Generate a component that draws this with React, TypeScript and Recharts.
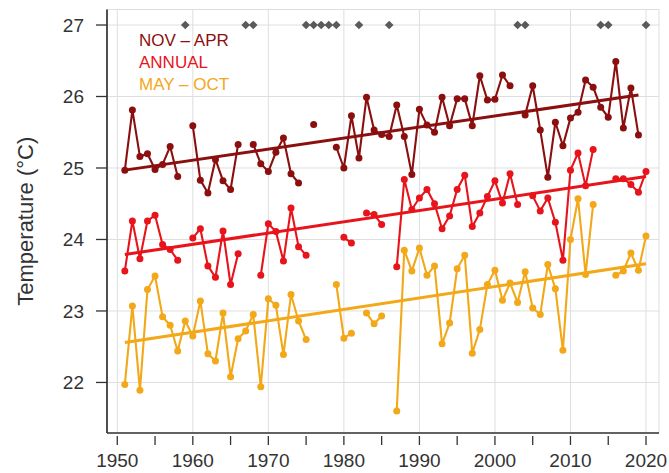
import React from 'react';
import {
  ComposedChart, Line, Scatter, XAxis, YAxis, CartesianGrid,
} from 'recharts';

const years = [
  1951, 1952, 1953, 1954, 1955, 1956, 1957, 1958, 1959, 1960,
  1961, 1962, 1963, 1964, 1965, 1966, 1967, 1968, 1969, 1970,
  1971, 1972, 1973, 1974, 1975, 1976, 1977, 1978, 1979, 1980,
  1981, 1982, 1983, 1984, 1985, 1986, 1987, 1988, 1989, 1990,
  1991, 1992, 1993, 1994, 1995, 1996, 1997, 1998, 1999, 2000,
  2001, 2002, 2003, 2004, 2005, 2006, 2007, 2008, 2009, 2010,
  2011, 2012, 2013, 2014, 2015, 2016, 2017, 2018, 2019, 2020,
];

// NOV - APR
const novApr = [
  24.97, 25.81, 25.16, 25.2, 24.98, 25.05, 25.3, 24.88, null, 25.59,
  24.83, 24.65, 25.12, 24.82, 24.7, 25.33, null, 25.33, 25.06, 24.95,
  25.22, 25.42, 24.92, 24.79, null, 25.61, null, null, 25.29, 25.0,
  25.73, 25.14, 25.99, 25.53, 25.47, 25.44, 25.88, 25.44, 24.91, 25.82,
  25.6, 25.5, 25.99, 25.59, 25.97, 25.97, 25.59, 26.29, 25.95, 25.96,
  26.3, 26.15, null, 25.74, 26.15, 25.53, 24.87, 25.64, 25.31, 25.7,
  25.78, 26.23, 26.13, 25.85, 25.71, 26.49, 25.56, 26.12, 25.46, null,
];

// ANNUAL
const annual = [
  23.56, 24.26, 23.73, 24.26, 24.34, 23.93, 23.86, 23.71, null, 24.02,
  24.15, 23.63, 23.47, 24.12, 23.37, 23.8, null, null, 23.5, 24.22,
  24.11, 23.7, 24.44, 23.9, 23.78, null, null, null, null, 24.03,
  23.95, null, 24.37, 24.35, 24.21, null, 23.62, 24.84, 24.42, 24.58,
  24.7, 24.5, 24.15, 24.33, 24.7, 24.9, 24.18, 24.37, 24.6, 24.82,
  24.51, 24.92, 24.49, null, 24.61, 24.4, 24.58, 24.24, 23.71, 24.97,
  25.21, 24.75, 25.26, null, null, 24.85, 24.85, 24.77, 24.66, 24.95,
];

// MAY - OCT
const mayOct = [
  21.97, 23.07, 21.89, 23.3, 23.49, 22.92, 22.8, 22.44, 22.86, 22.65,
  23.14, 22.4, 22.3, 22.97, 22.08, 22.61, 22.72, 22.95, 21.94, 23.17,
  23.08, 22.39, 23.23, 22.86, 22.6, null, null, null, 23.37, 22.62,
  22.69, null, 22.97, 22.82, 22.93, null, 21.6, 23.85, 23.56, 23.88,
  23.5, 23.63, 22.54, 22.83, 23.59, 23.78, 22.41, 22.74, 23.37, 23.57,
  23.15, 23.39, 23.12, 23.55, 23.04, 22.95, 23.65, 23.31, 22.45, 24.0,
  24.57, 23.51, 24.49, null, null, 23.5, 23.56, 23.81, 23.57, 24.05,
];

// linear trend end points
const trendNovApr = [{ year: 1951, v: 24.97 }, { year: 2019, v: 26.02 }];
const trendAnnual = [{ year: 1951, v: 23.79 }, { year: 2020, v: 24.88 }];
const trendMayOct = [{ year: 1951, v: 22.56 }, { year: 2020, v: 23.66 }];

// years marked with a diamond along the top
const markedYears = [1959, 1967, 1968, 1975, 1976, 1977, 1978, 1979, 1982, 1986, 2003, 2004, 2014, 2015, 2020];

const xTicks = [1950, 1955, 1960, 1965, 1970, 1975, 1980, 1985, 1990, 1995, 2000, 2005, 2010, 2015, 2020];
const decadeTicks = [1950, 1960, 1970, 1980, 1990, 2000, 2010, 2020];
const yTicks = [22, 23, 24, 25, 26, 27];

const X_DOMAIN = [1948.64, 2021.72];
const Y_DOMAIN = [21.293, 27.217];

const DARK = '#8b0f0f';
const RED = '#e8141c';
const GOLD = '#f2a818';
const INK = '#333';
const FONT = '"Liberation Sans", Arial, Helvetica, sans-serif';

const rows = years.map((year, i) => ({
  year,
  novApr: novApr[i],
  annual: annual[i],
  mayOct: mayOct[i],
}));

const marks = markedYears.map((year) => ({ year, flag: 27 }));

const legendItems = [
  { label: 'NOV – APR', color: DARK },
  { label: 'ANNUAL', color: RED },
  { label: 'MAY – OCT', color: GOLD },
];

function YearTick(props: any) {
  const { x, y, payload } = props;
  const labelled = decadeTicks.includes(payload.value);
  return (
    <g>
      <line x1={x} x2={x} y1={y + 3} y2={y + 12} stroke={INK} strokeWidth={1.3} />
      {labelled && (
        <text x={x} y={y + 34} textAnchor="middle" fontSize={19} fill={INK} fontFamily={FONT}>
          {payload.value}
        </text>
      )}
    </g>
  );
}

function Diamond(props: any) {
  const { cx, cy } = props;
  const r = 4.3;
  return (
    <polygon
      points={`${cx},${cy - r} ${cx + r},${cy} ${cx},${cy + r} ${cx - r},${cy}`}
      fill="#5a5a5a"
    />
  );
}

function seriesLine(key: string, color: string) {
  return (
    <Line
      key={key}
      type="linear"
      dataKey={key}
      stroke={color}
      strokeWidth={2.1}
      dot={{ r: 3.5, fill: color, stroke: color, strokeWidth: 0 }}
      activeDot={false}
      connectNulls={false}
      isAnimationActive={false}
    />
  );
}

function trendLine(data: any[], color: string, id: string) {
  return (
    <Line
      key={id}
      data={data}
      type="linear"
      dataKey="v"
      stroke={color}
      strokeWidth={3}
      dot={false}
      activeDot={false}
      isAnimationActive={false}
    />
  );
}

const frameLine = { stroke: INK, strokeWidth: 1.7 };

export default function App() {
  return (
    <div style={{ position: 'absolute', left: 0, top: 0, width: 669, height: 473, background: '#fff' }}>
      <ComposedChart
        width={669}
        height={473}
        data={rows}
        margin={{ top: 9.5, right: 10, bottom: 0, left: 0 }}
      >
        <CartesianGrid xAxisId="grid" stroke="#dedede" strokeWidth={1} />
        <XAxis
          dataKey="year"
          type="number"
          domain={X_DOMAIN}
          ticks={xTicks}
          interval={0}
          allowDataOverflow
          axisLine={frameLine}
          tickLine={false}
          tickSize={0}
          tickMargin={0}
          height={40}
          tick={<YearTick />}
        />
        <XAxis
          xAxisId="grid"
          dataKey="year"
          type="number"
          domain={X_DOMAIN}
          ticks={decadeTicks}
          allowDataOverflow
          hide
        />
        <XAxis
          xAxisId="top"
          orientation="top"
          dataKey="year"
          type="number"
          domain={X_DOMAIN}
          allowDataOverflow
          height={0}
          tick={false}
          tickLine={false}
          axisLine={frameLine}
        />
        <YAxis
          type="number"
          domain={Y_DOMAIN}
          ticks={yTicks}
          interval={0}
          allowDataOverflow
          width={107}
          axisLine={frameLine}
          tickLine={{ stroke: INK, strokeWidth: 1.3 }}
          tickSize={11}
          tickMargin={12}
          tick={{ fontSize: 19, fill: INK, fontFamily: FONT }}
          label={{
            value: 'Temperature (°C)',
            angle: -90,
            position: 'insideLeft',
            offset: 25,
            style: { textAnchor: 'middle', fontSize: 22, fill: INK, fontFamily: FONT },
          }}
        />
        <YAxis
          yAxisId="right"
          orientation="right"
          type="number"
          domain={Y_DOMAIN}
          allowDataOverflow
          width={0}
          tick={false}
          tickLine={false}
          axisLine={frameLine}
        />
        {seriesLine('mayOct', GOLD)}
        {seriesLine('annual', RED)}
        {seriesLine('novApr', DARK)}
        {trendLine(trendMayOct, GOLD, 'tMO')}
        {trendLine(trendAnnual, RED, 'tAn')}
        {trendLine(trendNovApr, DARK, 'tNA')}
        <Scatter
          data={marks}
          dataKey="flag"
          shape={<Diamond />}
          isAnimationActive={false}
        />
      </ComposedChart>
      <div
        style={{
          position: 'absolute',
          left: 139,
          top: 30,
          fontFamily: FONT,
          fontSize: 17,
          lineHeight: '22px',
        }}
      >
        {legendItems.map((it) => (
          <div key={it.label} style={{ color: it.color }}>{it.label}</div>
        ))}
      </div>
    </div>
  );
}
